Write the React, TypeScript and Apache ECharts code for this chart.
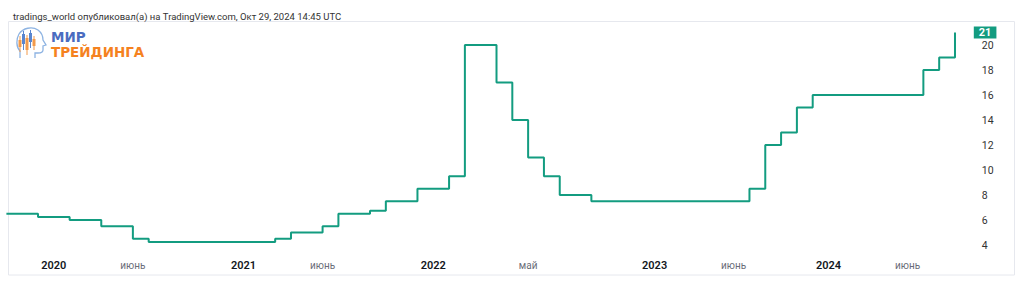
import React, { useEffect, useRef } from "react";
import * as echarts from "echarts";

// Monthly-ish observation periods (TradingView bars), Oct 2019 .. Nov 2024
// (the last period has no value: it is the empty space after the last bar)
const periods: string[] = [
  "2019-10", "2019-11", "2019-12",
  "2020-01", "2020-02", "2020-03", "2020-04", "2020-05", "2020-06",
  "2020-07", "2020-08", "2020-09", "2020-10", "2020-11", "2020-12",
  "2021-01", "2021-02", "2021-03", "2021-04", "2021-05", "2021-06",
  "2021-07", "2021-08", "2021-09", "2021-10", "2021-11", "2021-12",
  "2022-01", "2022-02", "2022-02-28", "2022-03", "2022-04", "2022-04-29",
  "2022-05", "2022-06", "2022-07", "2022-08", "2022-09", "2022-10",
  "2022-11", "2022-12",
  "2023-01", "2023-02", "2023-03", "2023-04", "2023-05", "2023-06",
  "2023-07", "2023-08", "2023-09", "2023-10", "2023-12",
  "2024-01", "2024-02", "2024-03", "2024-04", "2024-05", "2024-06",
  "2024-07", "2024-09", "2024-10", "2024-11",
];

// Key rate, %
const rates: number[] = [
  6.5, 6.5, 6.25,
  6.25, 6.0, 6.0, 5.5, 5.5, 4.5,
  4.25, 4.25, 4.25, 4.25, 4.25, 4.25,
  4.25, 4.25, 4.5, 5.0, 5.0, 5.5,
  6.5, 6.5, 6.75, 7.5, 7.5, 8.5,
  8.5, 9.5, 20, 20, 17, 14,
  11, 9.5, 8, 8, 7.5, 7.5,
  7.5, 7.5,
  7.5, 7.5, 7.5, 7.5, 7.5, 7.5,
  8.5, 12, 13, 15, 16,
  16, 16, 16, 16, 16, 16,
  18, 19, 21,
];

// Time-scale labels: [period, text, isYear]
const timeLabels: [string, string, boolean][] = [
  ["2020-01", "2020", true],
  ["2020-06", "июнь", false],
  ["2021-01", "2021", true],
  ["2021-06", "июнь", false],
  ["2022-01", "2022", true],
  ["2022-05", "май", false],
  ["2023-01", "2023", true],
  ["2023-06", "июнь", false],
  ["2024-01", "2024", true],
  ["2024-06", "июнь", false],
];

const headerText = "tradings_world опубликовал(а) на TradingView.com, Окт 29, 2024 14:45 UTC";
const logoTop = "МИР";
const logoBottom = "ТРЕЙДИНГА";

const LINE_COLOR = "#139c80";

echarts.graphic.registerShape(
  "headOutline",
  echarts.graphic.extendPath(
    "M4 31 L4 24 C0 20 0 12 3 7 C7 1 16 -1 22 3 C26 6 27 10 27 13 L30 18 L27 19 L27 23 C27 25 25 26 22 26 L19 26 L19 31",
    {}
  )
);

export default function App() {
  const ref = useRef<HTMLDivElement>(null);

  useEffect(() => {
    if (!ref.current) return;
    const chart = echarts.init(ref.current, undefined, { renderer: "svg" });
    const labelMap: Record<string, [string, boolean]> = {};
    timeLabels.forEach(([p, t, y]) => (labelMap[p] = [t, y]));
    const lastValue = rates[rates.length - 1];

    const candle = (x: number, y1: number, y2: number, b1: number, b2: number, color: string) => [
      { type: "line", shape: { x1: x, y1, x2: x, y2 }, style: { stroke: color, lineWidth: 1 } },
      { type: "rect", shape: { x: x - 1.5, y: b1, width: 3, height: b2 - b1 }, style: { fill: color } },
    ];

    chart.setOption({
      animation: false,
      backgroundColor: "#ffffff",
      textStyle: { fontFamily: "Roboto, 'Noto Sans', sans-serif" },
      title: {
        text: headerText,
        left: 8,
        top: 6,
        textStyle: { fontSize: 9.5, fontWeight: "normal", color: "#333333", fontFamily: "Roboto" },
      },
      grid: { left: 6.4, right: 53.2, top: 20, bottom: 34, containLabel: false },
      xAxis: {
        type: "category",
        data: periods,
        boundaryGap: false,
        offset: -10,
        axisLine: { show: false },
        axisTick: { show: false },
        splitLine: { show: false },
        axisLabel: {
          interval: (i: number) => labelMap[periods[i]] !== undefined,
          margin: 0,
          formatter: (v: string) => {
            const l = labelMap[v];
            if (!l) return "";
            return l[1] ? `{y|${l[0]}}` : `{m|${l[0]}}`;
          },
          rich: {
            y: { fontSize: 11, fontWeight: 600, color: "#131722", fontFamily: "Roboto" },
            m: { fontSize: 10, color: "#6a6d78", fontFamily: "Roboto" },
          },
        },
      },
      yAxis: {
        type: "value",
        position: "right",
        min: 2,
        max: 22,
        interval: 2,
        axisLine: { show: false },
        axisTick: { show: false },
        splitLine: { show: false },
        axisLabel: {
          margin: 11,
          fontSize: 10.5,
          color: "#333333",
          fontFamily: "Roboto",
          formatter: (v: number) => (v === 2 || v === 22 ? "" : String(v)),
        },
      },
      series: [
        {
          type: "line",
          data: rates,
          step: "end",
          showSymbol: false,
          symbol: "none",
          lineStyle: { color: LINE_COLOR, width: 2 },
          markLine: {
            silent: true,
            symbol: "none",
            lineStyle: { color: "rgba(0,0,0,0)", width: 0 },
            data: [{ yAxis: lastValue }],
            label: {
              show: true,
              position: "end",
              distance: 3,
              formatter: "{c}",
              color: "#ffffff",
              fontWeight: "bold",
              fontSize: 11,
              fontFamily: "Roboto",
              backgroundColor: LINE_COLOR,
              padding: [1, 5, 0, 5],
              lineHeight: 11,
            },
          },
        },
      ],
      graphic: [
        {
          type: "rect",
          silent: true,
          z: -1,
          shape: { x: 8.5, y: 21.5, width: 1006, height: 253.5 },
          style: { fill: "none", stroke: "#e6e8ee", lineWidth: 1 },
        },
        {
          type: "group",
          z: 10,
          children: [
            { type: "rect", shape: { x: 9, y: 22, width: 151, height: 46 }, style: { fill: "#ffffff" } },
            {
              type: "headOutline",
              x: 16,
              y: 27,
              style: { fill: "none", stroke: "#8db3e2", lineWidth: 1.3 },
            },
            ...candle(20, 36, 52, 40, 47, "#f39a4a"),
            ...candle(23.5, 31, 50, 34, 44, "#5a86cf"),
            ...candle(27, 35, 55, 38, 50, "#f39a4a"),
            ...candle(30.5, 30, 48, 33, 42, "#5a86cf"),
            ...candle(34, 36, 50, 39, 46, "#f39a4a"),
            {
              type: "text",
              x: 51,
              y: 37,
              style: {
                text: logoTop,
                fill: "#4a6cc0",
                font: "bold 13.5px 'DejaVu Sans'",
                lineHeight: 14,
                verticalAlign: "middle",
                align: "left",
              },
            },
            {
              type: "text",
              x: 51,
              y: 52,
              style: {
                text: logoBottom,
                fill: "#f5821f",
                font: "bold 13.5px 'DejaVu Sans'",
                lineHeight: 14,
                verticalAlign: "middle",
                align: "left",
              },
            },
          ],
        },
      ],
    });
    return () => chart.dispose();
  }, []);

  return (
    <div
      ref={ref}
      style={{ position: "absolute", left: 0, top: 0, width: 1024, height: 304 }}
    />
  );
}
